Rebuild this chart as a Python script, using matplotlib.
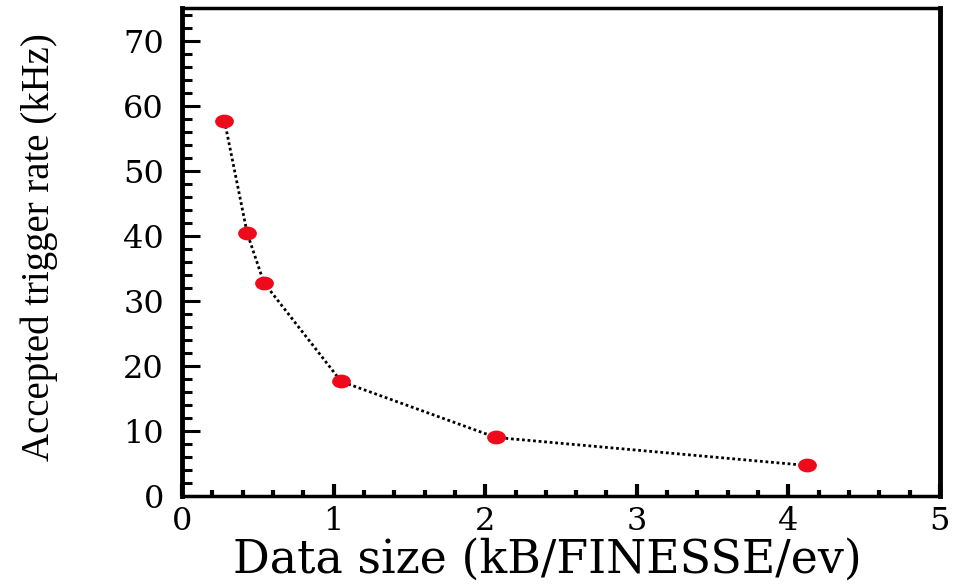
import matplotlib
matplotlib.use("Agg")
import matplotlib.pyplot as plt
from matplotlib.path import Path
from matplotlib.transforms import Affine2D
from matplotlib.ticker import MultipleLocator

# data
data_size = [0.28, 0.43, 0.54, 1.05, 2.07, 4.12]
trigger_rate = [57.7, 40.4, 32.8, 17.6, 9.0, 4.7]

plt.rcParams['font.family'] = ['DejaVu Serif']

# the reference picture is stretched sideways, so use a wide marker
wide_dot = Path.unit_circle().transformed(Affine2D().scale(1.4, 1.0))

fig = plt.figure(figsize=(9.6, 5.84), dpi=100)
ax = fig.add_axes([182 / 960, 1 - 496 / 584, (940 - 182) / 960, (496 - 8) / 584])

ax.plot(data_size, trigger_rate, color='black', linestyle=(0, (1, 1)), linewidth=2.0,
        marker=wide_dot, markersize=12.5, markerfacecolor='#ee0a1a', markeredgecolor='#ee0a1a')

ax.set_xlim(0, 5)
ax.set_ylim(0, 75)
ax.xaxis.set_major_locator(MultipleLocator(1))
ax.xaxis.set_minor_locator(MultipleLocator(0.2))
ax.yaxis.set_major_locator(MultipleLocator(10))
ax.yaxis.set_minor_locator(MultipleLocator(2))
ax.tick_params(which='both', direction='in', top=False, right=False, labelsize=23)
ax.tick_params(axis='y', which='major', length=13, width=2.2, pad=13)
ax.tick_params(axis='y', which='minor', length=7, width=2.2)
ax.tick_params(axis='x', which='major', length=9, width=3, pad=7)
ax.tick_params(axis='x', which='minor', length=4.5, width=3)
ax.spines['left'].set_linewidth(3.5)
ax.spines['right'].set_linewidth(3.5)
ax.spines['top'].set_linewidth(2.5)
ax.spines['bottom'].set_linewidth(2.5)

ax.set_xlabel('Data size (kB/FINESSE/ev)', fontsize=33, labelpad=0)
ax.xaxis.set_label_coords(0.482, -0.085)
ax.xaxis.label.set_va('top')
ax.set_ylabel('Accepted trigger rate (kHz)', fontsize=28, labelpad=16,
              family='Liberation Serif')
ax.yaxis.set_label_coords(-0.163, 0.51)

fig.savefig('out.png', dpi=100)
